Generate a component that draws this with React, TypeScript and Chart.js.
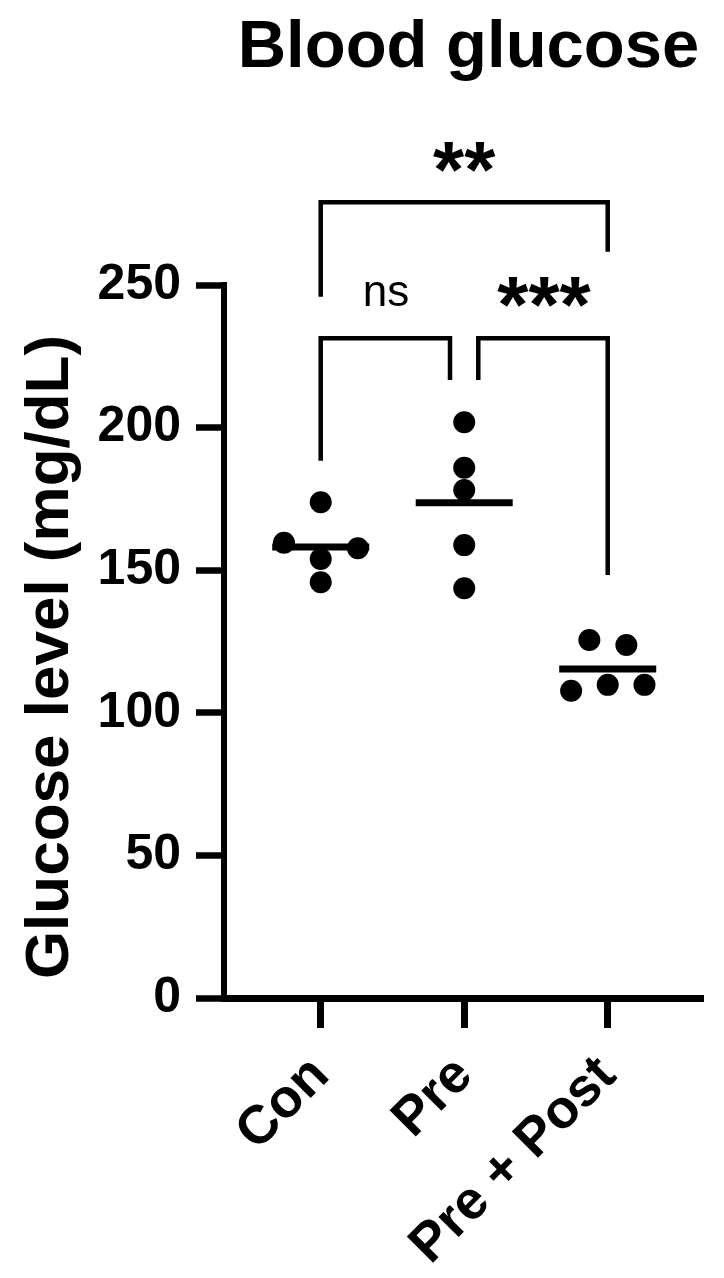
import React, { useEffect, useRef } from "react";
import { Chart, registerables } from "chart.js";

Chart.register(...registerables);

// ---- data ----
const categories = ["Con", "Pre", "Pre + Post"];
const conValues = [173.8, 159.6, 157.7, 153.9, 145.8];
const conJitter = [0, -0.256, 0.259, 0, 0];
const preValues = [201.9, 185.9, 178.1, 158.8, 143.7];
const preJitter = [0, 0, 0, 0, 0];
const prePostValues = [125.5, 123.8, 107.7, 109.8, 109.8];
const prePostJitter = [-0.128, 0.13, -0.255, 0, 0.256];
const yTicks = [0, 50, 100, 150, 200, 250];

// significance brackets: [xLeft, xRight, yTop, yLeftEnd, yRightEnd]
const bracketNs = [0, 0.901, 231.3, 188.4, 216.7];
const bracketTriple = [1.098, 2, 231.3, 216.7, 148.3];
const bracketDouble = [0, 2, 279.0, 245.9, 261.7];
// labels: [text, x, y(center), bold]
const sigLabels: [string, number, number, boolean][] = [
  ["ns", 0.455, 247.0, false],
  ["***", 1.556, 247.6, true],
  ["**", 1.0, 294.9, true],
];

const title = "Blood glucose";
const yTitle = "Glucose level (mg/dL)";

const FONT = "'Liberation Sans', Arial, sans-serif";

const groups = [
  { values: conValues, jitter: conJitter, x: 0 },
  { values: preValues, jitter: preJitter, x: 1 },
  { values: prePostValues, jitter: prePostJitter, x: 2 },
];

const mean = (a: number[]) => a.reduce((s, v) => s + v, 0) / a.length;

export default function App() {
  const ref = useRef<HTMLCanvasElement | null>(null);

  useEffect(() => {
    document.body.style.margin = "0";
    const canvas = ref.current!;
    const datasets: any[] = [];
    groups.forEach((g) => {
      datasets.push({
        type: "scatter",
        data: g.values.map((v, i) => ({ x: g.x + g.jitter[i], y: v })),
        backgroundColor: "#000",
        borderWidth: 0,
        pointRadius: 11,
        pointHoverRadius: 11,
      });
    });
    groups.forEach((g) => {
      const m = mean(g.values);
      datasets.push({
        type: "line",
        data: [
          { x: g.x - 0.338, y: m },
          { x: g.x + 0.338, y: m },
        ],
        borderColor: "#000",
        borderWidth: 7,
        pointRadius: 0,
        borderCapStyle: "butt",
      });
    });

    const annot = {
      id: "annot",
      afterDraw(chart: any) {
        const ctx = chart.ctx;
        const xs = chart.scales.x;
        const ys = chart.scales.y;
        ctx.save();
        ctx.fillStyle = "#000";
        ctx.strokeStyle = "#000";
        // title
        ctx.font = `bold 67px ${FONT}`;
        ctx.textAlign = "center";
        ctx.textBaseline = "alphabetic";
        ctx.fillText(title, 468.5, 67);
        // y title
        ctx.save();
        ctx.translate(68, 657);
        ctx.rotate(-Math.PI / 2);
        ctx.font = `bold 62px ${FONT}`;
        ctx.fillText(yTitle, 0, 0);
        ctx.restore();
        // brackets
        ctx.lineWidth = 4.5;
        ctx.lineCap = "butt";
        ctx.lineJoin = "miter";
        [bracketNs, bracketTriple, bracketDouble].forEach((b) => {
          const x1 = xs.getPixelForValue(b[0]);
          const x2 = xs.getPixelForValue(b[1]);
          const yt = ys.getPixelForValue(b[2]);
          ctx.beginPath();
          ctx.moveTo(x1, ys.getPixelForValue(b[3]));
          ctx.lineTo(x1, yt);
          ctx.lineTo(x2, yt);
          ctx.lineTo(x2, ys.getPixelForValue(b[4]));
          ctx.stroke();
        });
        // labels (centered on ink)
        sigLabels.forEach(([t, x, y, bold]) => {
          ctx.font = bold ? `bold 80px ${FONT}` : `44px ${FONT}`;
          ctx.textAlign = "center";
          ctx.textBaseline = "alphabetic";
          const m = ctx.measureText(t);
          const cy = ys.getPixelForValue(y);
          const base = cy - (m.actualBoundingBoxDescent - m.actualBoundingBoxAscent) / 2;
          ctx.fillText(t, xs.getPixelForValue(x), base);
        });
        ctx.restore();
      },
    };

    const chart = new Chart(canvas, {
      type: "scatter",
      data: { datasets },
      options: {
        animation: false,
        responsive: false,
        events: [],
        layout: { padding: { top: 285, right: 21, left: 0, bottom: 0 } },
        plugins: { legend: { display: false }, tooltip: { enabled: false } },
        scales: {
          x: {
            type: "linear",
            min: -0.674,
            max: 2.664,
            afterBuildTicks: (s: any) => {
              s.ticks = categories.map((_, i) => ({ value: i }));
            },
            afterFit: (s: any) => {
              s.height = 280;
            },
            ticks: {
              autoSkip: false,
              minRotation: 45,
              maxRotation: 45,
              padding: 16,
              color: "#000",
              font: { family: FONT, weight: "bold", size: 54 },
              callback: (v: any) => categories[Math.round(v)] ?? "",
            },
            grid: {
              drawOnChartArea: false,
              drawTicks: true,
              tickLength: 30,
              tickWidth: 7,
              tickColor: "#000",
            },
            border: { display: true, width: 7, color: "#000" },
          },
          y: {
            type: "linear",
            min: 0,
            max: 250,
            afterBuildTicks: (s: any) => {
              s.ticks = yTicks.map((v) => ({ value: v }));
            },
            afterFit: (s: any) => {
              s.width = 224;
            },
            ticks: {
              padding: 15,
              color: "#000",
              font: { family: FONT, weight: "bold", size: 50 },
            },
            grid: {
              drawOnChartArea: false,
              drawTicks: true,
              tickLength: 28,
              tickWidth: 6.5,
              tickColor: "#000",
            },
            border: { display: true, width: 6, color: "#000" },
          },
        },
      },
      plugins: [annot],
    } as any);
    return () => chart.destroy();
  }, []);

  return (
    <canvas
      ref={ref}
      width={724}
      height={1278}
      style={{ display: "block", width: 724, height: 1278 }}
    />
  );
}
